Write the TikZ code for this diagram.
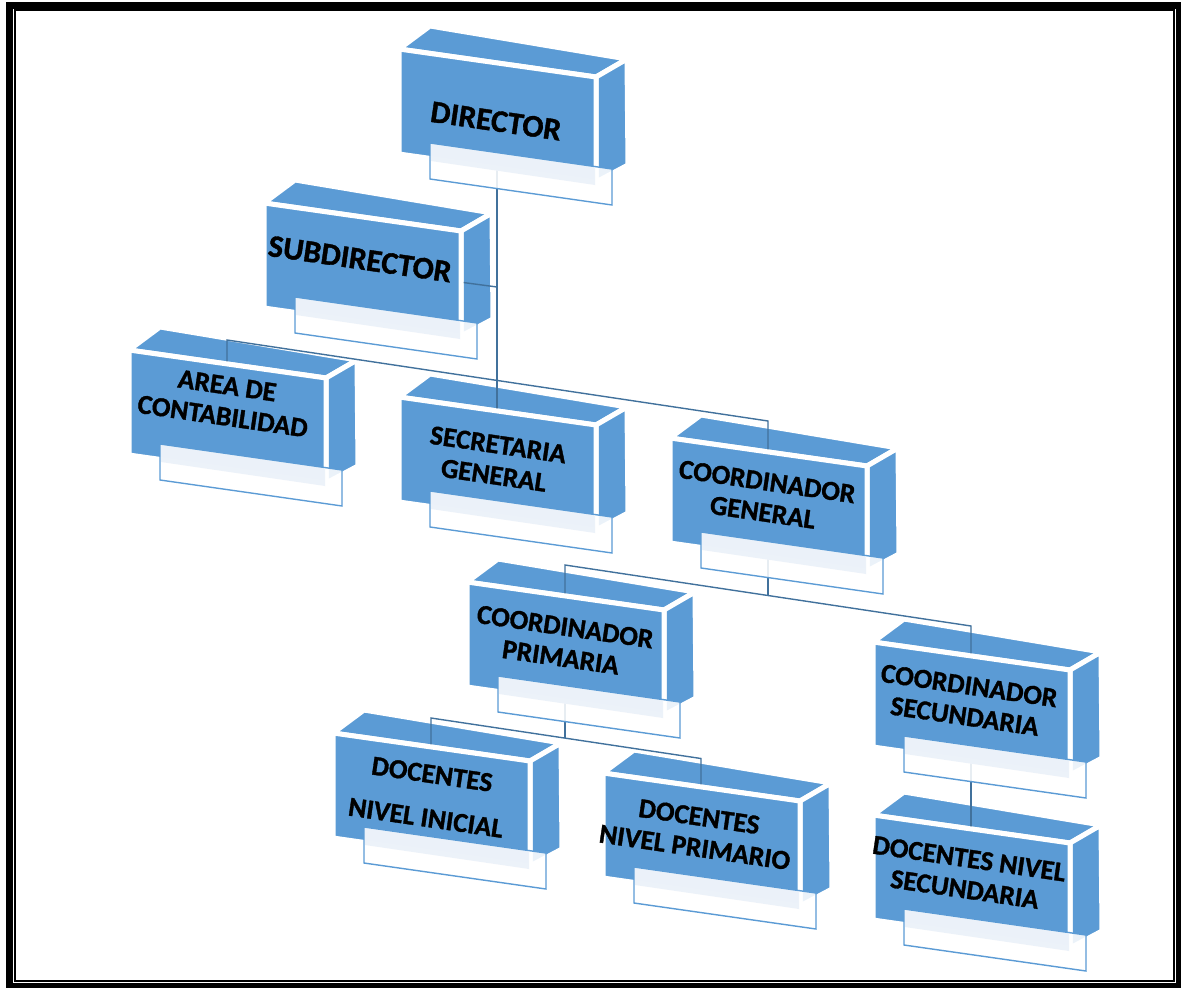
\documentclass[tikz,border=0pt]{standalone}
\usepackage{fontspec}
\setmainfont{Carlito}[BoldFeatures={FakeBold=1.2}]
\definecolor{face}{HTML}{5B9BD5}
\definecolor{conn}{HTML}{41719C}
\definecolor{band}{HTML}{EBF1F9}
\pgfdeclarelayer{faces}
\pgfdeclarelayer{links}
\pgfsetlayers{faces,links,main}
\tikzset{
  boxface/.style={fill=face, draw=white, line width=5pt, line join=miter},
  labelbox/.style={fill=white, fill opacity=0.88, draw=face, line width=1.4pt},
  bandfill/.style={fill=band, fill opacity=0.9},
  boxtext/.style={font=\bfseries\fontsize{27.5}{31}\selectfont, align=center, rotate=-8.3, inner sep=0pt, text=black},
  bigtext/.style={font=\bfseries\fontsize{31.5}{35}\selectfont},
  link/.style={draw=conn, line width=1.4pt},
  framethick/.style={draw=black, line width=7pt},
  framethin/.style={draw=black, line width=1.8pt},
}
% #1 extra text style, #2 name, #3,#4 front top-left, #5,#6 text centre, #7 text
\newcommand\orgbox[7][]{%
  \begin{scope}[shift={(#3,#4)}]
    \begin{pgfonlayer}{faces}
      \path[boxface] (0,0) -- (31,-23) -- (228,10) -- (197,28) -- cycle;
      \path[boxface] (197,28) -- (228,10) -- (229,116) -- (197,133) -- cycle;
    \end{pgfonlayer}
    \path[boxface] (0,0) -- (197,28) -- (197,133) -- (0,105) -- cycle;
    \path[labelbox] (31,94) -- (213,120) -- (213,156) -- (31,130) -- cycle;
    \path[bandfill] (32,95.5) -- (196,119.2) -- (196,136) -- (32,112) -- cycle;
    \coordinate (#2) at (98,66);
  \end{scope}
  \node[boxtext,#1] (#2-t) at (#5,#6) {#7};
}
\begin{document}
\begin{tikzpicture}[x=1pt,y=-1pt]
\useasboundingbox (0,0) rectangle (1181,988);
\draw[framethick] (9,5) rectangle (1179,986);
\draw[framethin] (15,10) rectangle (1174,981);

\orgbox[bigtext]{dir}{399}{49}{496}{121}{DIRECTOR}
\orgbox[bigtext]{sub}{264}{203}{360}{259}{SUBDIRECTOR}
\orgbox{area}{129}{350}{225}{401}{AREA DE\\CONTABILIDAD}
\orgbox{sec}{399}{397}{496}{460}{SECRETARIA\\GENERAL}
\orgbox{cg}{670}{438}{765}{497}{COORDINADOR\\GENERAL}
\orgbox{cp}{467}{582}{563}{642}{COORDINADOR\\PRIMARIA}
\orgbox{cs}{873}{642}{967}{701}{COORDINADOR\\SECUNDARIA}
\orgbox{di}{333}{733}{429}{796}{DOCENTES\\[13pt]NIVEL INICIAL}
\orgbox{dp}{603}{773}{697}{832}{DOCENTES\\NIVEL PRIMARIO}
\orgbox{ds}{873}{815}{967}{874}{DOCENTES NIVEL\\SECUNDARIA}

\coordinate (subj) at (497,287);
\coordinate (b1l) at (227,340);
\coordinate (b1r) at (768,421);
\coordinate (b2m) at (768,595.5);
\coordinate (b2l) at (565,565);
\coordinate (b2r) at (971,626);
\coordinate (b3m) at (565,738);
\coordinate (b3l) at (431,718);
\coordinate (b3r) at (701,758.5);

\begin{pgfonlayer}{links}
  \draw[link] (dir) -- (sec);
  \draw[link] (sub) -- (subj);
  \draw[link] (area) -- (b1l) -- (b1r) -- (cg);
  \draw[link] (cg) -- (b2m);
  \draw[link] (cp) -- (b2l) -- (b2r) -- (cs);
  \draw[link] (cp) -- (b3m);
  \draw[link] (di) -- (b3l) -- (b3r) -- (dp);
  \draw[link] (cs) -- (ds);
\end{pgfonlayer}
\end{tikzpicture}
\end{document}
